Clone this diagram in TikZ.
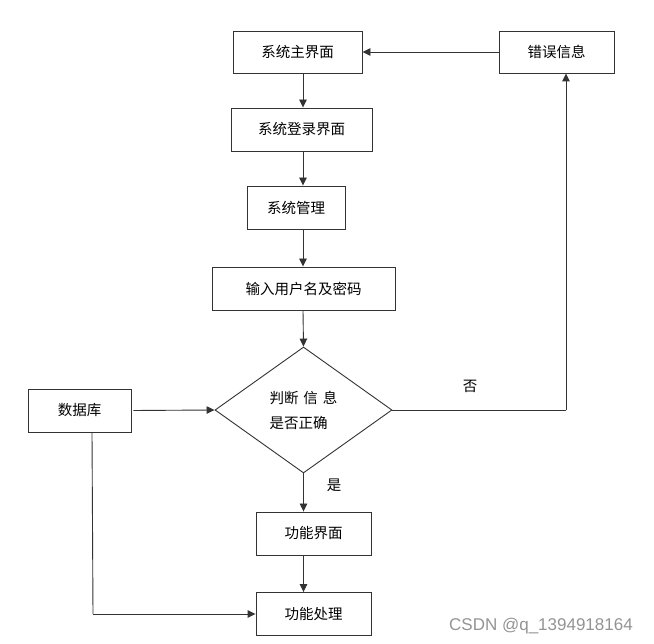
\documentclass[tikz,border=0pt]{standalone}
\usepackage{fontspec}
\setmainfont{Noto Sans CJK SC}
\newfontfamily\wmfont{Liberation Sans}
\usetikzlibrary{shapes.geometric,arrows.meta}
\begin{document}
\begin{tikzpicture}[x=1pt,y=-1pt,
  every node/.style={font=\fontsize{14.5}{19}\selectfont, text=black},
  box/.style={draw=black!80, line width=0.9pt, rectangle, inner sep=0pt, minimum height=43pt},
  decide/.style={draw=black!80, line width=0.9pt, diamond, inner sep=0pt, minimum width=177pt, minimum height=126pt, align=left, font=\fontsize{14.5}{25}\selectfont},
  arr/.style={draw=black!80, line width=0.9pt, -{Triangle[length=8pt,width=7.5pt]}},
  plain/.style={draw=black!80, line width=0.9pt},
  lbl/.style={inner sep=0pt}
]
\useasboundingbox (0,0) rectangle (654,644);
\fill[white] (0,0) rectangle (654,644);

\node[box, minimum width=129pt, minimum height=42pt] (main) at (297.5,52) {系统主界面};
\node[box, minimum width=115pt, minimum height=42pt] (err) at (556.5,52) {错误信息};
\node[box, minimum width=141pt] (login) at (301.5,129.5) {系统登录界面};
\node[box, minimum width=98pt] (manage) at (296,207.5) {系统管理};
\node[box, minimum width=183pt] (input) at (303.5,288.5) {输入用户名及密码};
\node[decide] (dia) at (303.5,410) {判断\,\,信\,\,息\\是否正确};
\node[box, minimum width=103pt] (db) at (79.5,410.5) {数据库};
\node[box, minimum width=115pt] (fui) at (313.5,533.5) {功能界面};
\node[box, minimum width=115pt] (fproc) at (313.5,614) {功能处理};

\node[lbl] (no) at (470,386) {否};
\node[lbl] (yes) at (334,485) {是};
\node[lbl, font=\wmfont\fontsize{17}{20}\selectfont, text=black!42] (wm) at (541,626) {CSDN @q\_1394918164};

\coordinate (spine) at (303,0);
\coordinate (rturn) at (566,410);
\coordinate (dbx) at (92,0);
\coordinate (lturn) at (93,614);

\draw[arr] (err.west) -- (main.east);
\draw[arr] (main.south -| spine) -- (login.north -| spine);
\draw[arr] (login.south -| spine) -- (manage.north -| spine);
\draw[arr] (manage.south -| spine) -- (input.north -| spine);
\draw[arr] (input.south -| spine) -- (dia.north);
\draw[arr] (dia.south) -- (fui.north -| dia.south);
\draw[arr] (fui.south -| dia.south) -- (fproc.north -| dia.south);
\draw[plain] (dia.east) -- (rturn);
\draw[arr] (rturn) -- (rturn |- err.south);
\draw[arr] ([xshift=2pt]db.east) -- (dia.west);
\draw[plain] (db.south -| dbx) -- (lturn);
\draw[arr] (lturn) -- (fproc.west);
\end{tikzpicture}
\end{document}
